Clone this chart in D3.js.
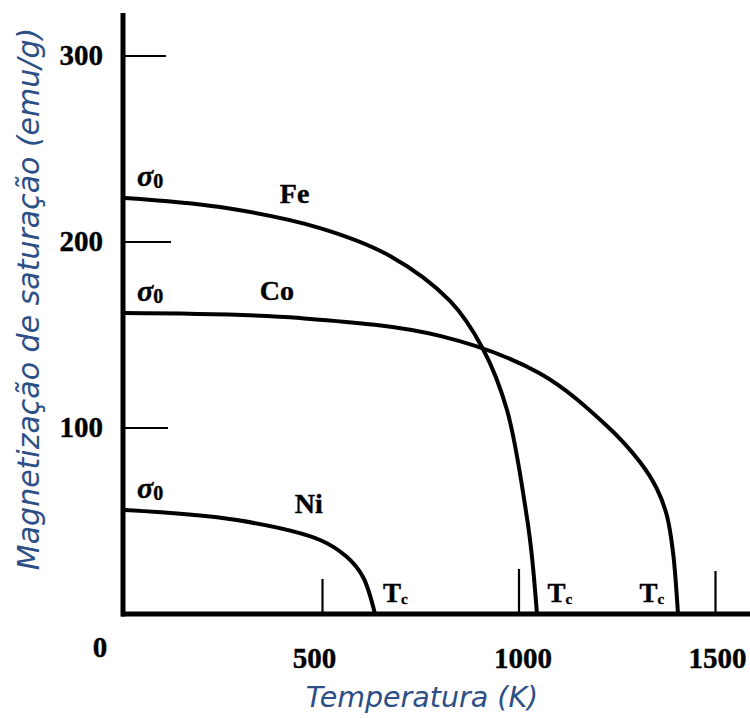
<!DOCTYPE html>
<html lang="pt">
<head>
  <meta charset="utf-8">
  <title>Magnetização de saturação</title>
  <script src="https://d3js.org/d3.v7.min.js"></script>
  <style>
    body { margin: 0; background: #fff; }
    .serif { font-family: "Liberation Serif", "Times New Roman", serif; font-weight: bold; fill: #000; stroke: #000; stroke-width: 0.4px; }
    .title { font-family: "DejaVu Sans", Verdana, sans-serif; font-style: italic; fill: #2b4f86; }
  </style>
</head>
<body>
  <svg id="chart"></svg>
  <script>
    // values: temperature (K) vs saturation magnetisation (emu/g)
    const feT = [0, 241.7, 496.2, 674.3, 827, 910.9, 972, 1022.9, 1035.6, 1048.3];
    const feM = [223.7, 218.8, 207.5, 192.5, 168.3, 142.5, 109.7, 51.6, 30.6, 0];
    const coT = [0, 445.3, 801.5, 1056, 1226.5, 1310.4, 1353.7, 1379.1, 1394.4, 1407.1];
    const coM = [161.8, 159.1, 149.5, 129.3, 101.1, 81.7, 67.2, 52.7, 33.3, 0];
    const niT = [0, 284.9, 496.2, 564.9, 605.6, 636.1];
    const niM = [55.9, 50.5, 39.8, 30.6, 19.9, 0];

    const yTicks = [100, 200, 300];
    const yTickLen = [43, 46, 41];
    const xTicks = [500, 1000, 1500];
    const xTickLen = [35, 45, 43];
    const xLabelShift = [-7, 5, 3];
    const curieT = [636, 1047, 1406];

    const width = 750, height = 718;
    const svg = d3.select("#chart").attr("width", width).attr("height", height);

    const x = d3.scaleLinear().domain([0, 1500]).range([125, 714.5]);
    const y = d3.scaleLinear().domain([0, 300]).range([614, 56]);

    const line = d3.line()
      .x(d => x(d[0]))
      .y(d => y(d[1]))
      .curve(d3.curveCatmullRom.alpha(0.5));

    const series = [
      { name: "Fe", pts: d3.zip(feT, feM), lx: 394, ly: 221 },
      { name: "Co", pts: d3.zip(coT, coM), lx: 343, ly: 169 },
      { name: "Ni", pts: d3.zip(niT, niM), lx: 432, ly: 54.5 }
    ];

    svg.selectAll("path.curve")
      .data(series)
      .join("path")
      .attr("class", "curve")
      .attr("d", d => line(d.pts))
      .attr("fill", "none")
      .attr("stroke", "#000")
      .attr("stroke-width", 4);

    // axes
    svg.append("line")
      .attr("x1", 123).attr("x2", 123)
      .attr("y1", 13).attr("y2", y(0) + 2.5)
      .attr("stroke", "#000").attr("stroke-width", 5);
    svg.append("line")
      .attr("x1", 121).attr("x2", width)
      .attr("y1", y(0)).attr("y2", y(0))
      .attr("stroke", "#000").attr("stroke-width", 5);

    svg.selectAll("line.ytick")
      .data(yTicks)
      .join("line")
      .attr("class", "ytick")
      .attr("x1", 125).attr("x2", (d, i) => 125 + yTickLen[i])
      .attr("y1", d => y(d)).attr("y2", d => y(d))
      .attr("stroke", "#000").attr("stroke-width", 2.2);

    svg.selectAll("line.xtick")
      .data(xTicks)
      .join("line")
      .attr("class", "xtick")
      .attr("x1", d => x(d) + 1).attr("x2", d => x(d) + 1)
      .attr("y1", y(0)).attr("y2", (d, i) => y(0) - xTickLen[i])
      .attr("stroke", "#000").attr("stroke-width", 2.2);

    svg.selectAll("text.ylab")
      .data(yTicks)
      .join("text")
      .attr("class", "ylab serif")
      .attr("x", 103).attr("y", d => y(d) + 9)
      .attr("text-anchor", "end")
      .attr("font-size", 29)
      .text(d => d);

    svg.selectAll("text.xlab")
      .data(xTicks)
      .join("text")
      .attr("class", "xlab serif")
      .attr("x", (d, i) => x(d) + xLabelShift[i]).attr("y", 668)
      .attr("text-anchor", "middle")
      .attr("font-size", 29)
      .text(d => d);

    svg.append("text")
      .attr("class", "serif")
      .attr("x", 100).attr("y", 657)
      .attr("text-anchor", "middle")
      .attr("font-size", 29)
      .text("0");

    // series names and σ0 labels
    svg.selectAll("text.name")
      .data(series)
      .join("text")
      .attr("class", "name serif")
      .attr("x", d => x(d.lx))
      .attr("y", d => y(d.ly))
      .attr("font-size", 28)
      .text(d => d.name);

    const sig = svg.selectAll("text.sigma")
      .data(series)
      .join("text")
      .attr("class", "sigma serif")
      .attr("x", 137)
      .attr("y", d => y(d.pts[0][1]) - 12)
      .attr("font-size", 30);
    sig.append("tspan").attr("font-style", "italic").text("σ");
    sig.append("tspan").attr("font-size", 20).attr("dy", 2).text("0");

    // Curie temperature labels
    const tcOffset = [8, 11, -38];
    const tc = svg.selectAll("text.tc")
      .data(curieT)
      .join("text")
      .attr("class", "tc serif")
      .attr("x", (d, i) => x(d) + tcOffset[i])
      .attr("y", 602)
      .attr("font-size", 27);
    tc.append("tspan").text("T");
    tc.append("tspan").attr("font-size", 15).attr("dy", 2).text("c");

    // axis titles
    svg.append("text")
      .attr("class", "title")
      .attr("x", 422).attr("y", 707)
      .attr("text-anchor", "middle")
      .attr("font-size", 28.5)
      .text("Temperatura (K)");

    svg.append("text")
      .attr("class", "title")
      .attr("transform", "translate(39,299) rotate(-90)")
      .attr("text-anchor", "middle")
      .attr("font-size", 30)
      .text("Magnetização de saturação (emu/g)");
  </script>
</body>
</html>
